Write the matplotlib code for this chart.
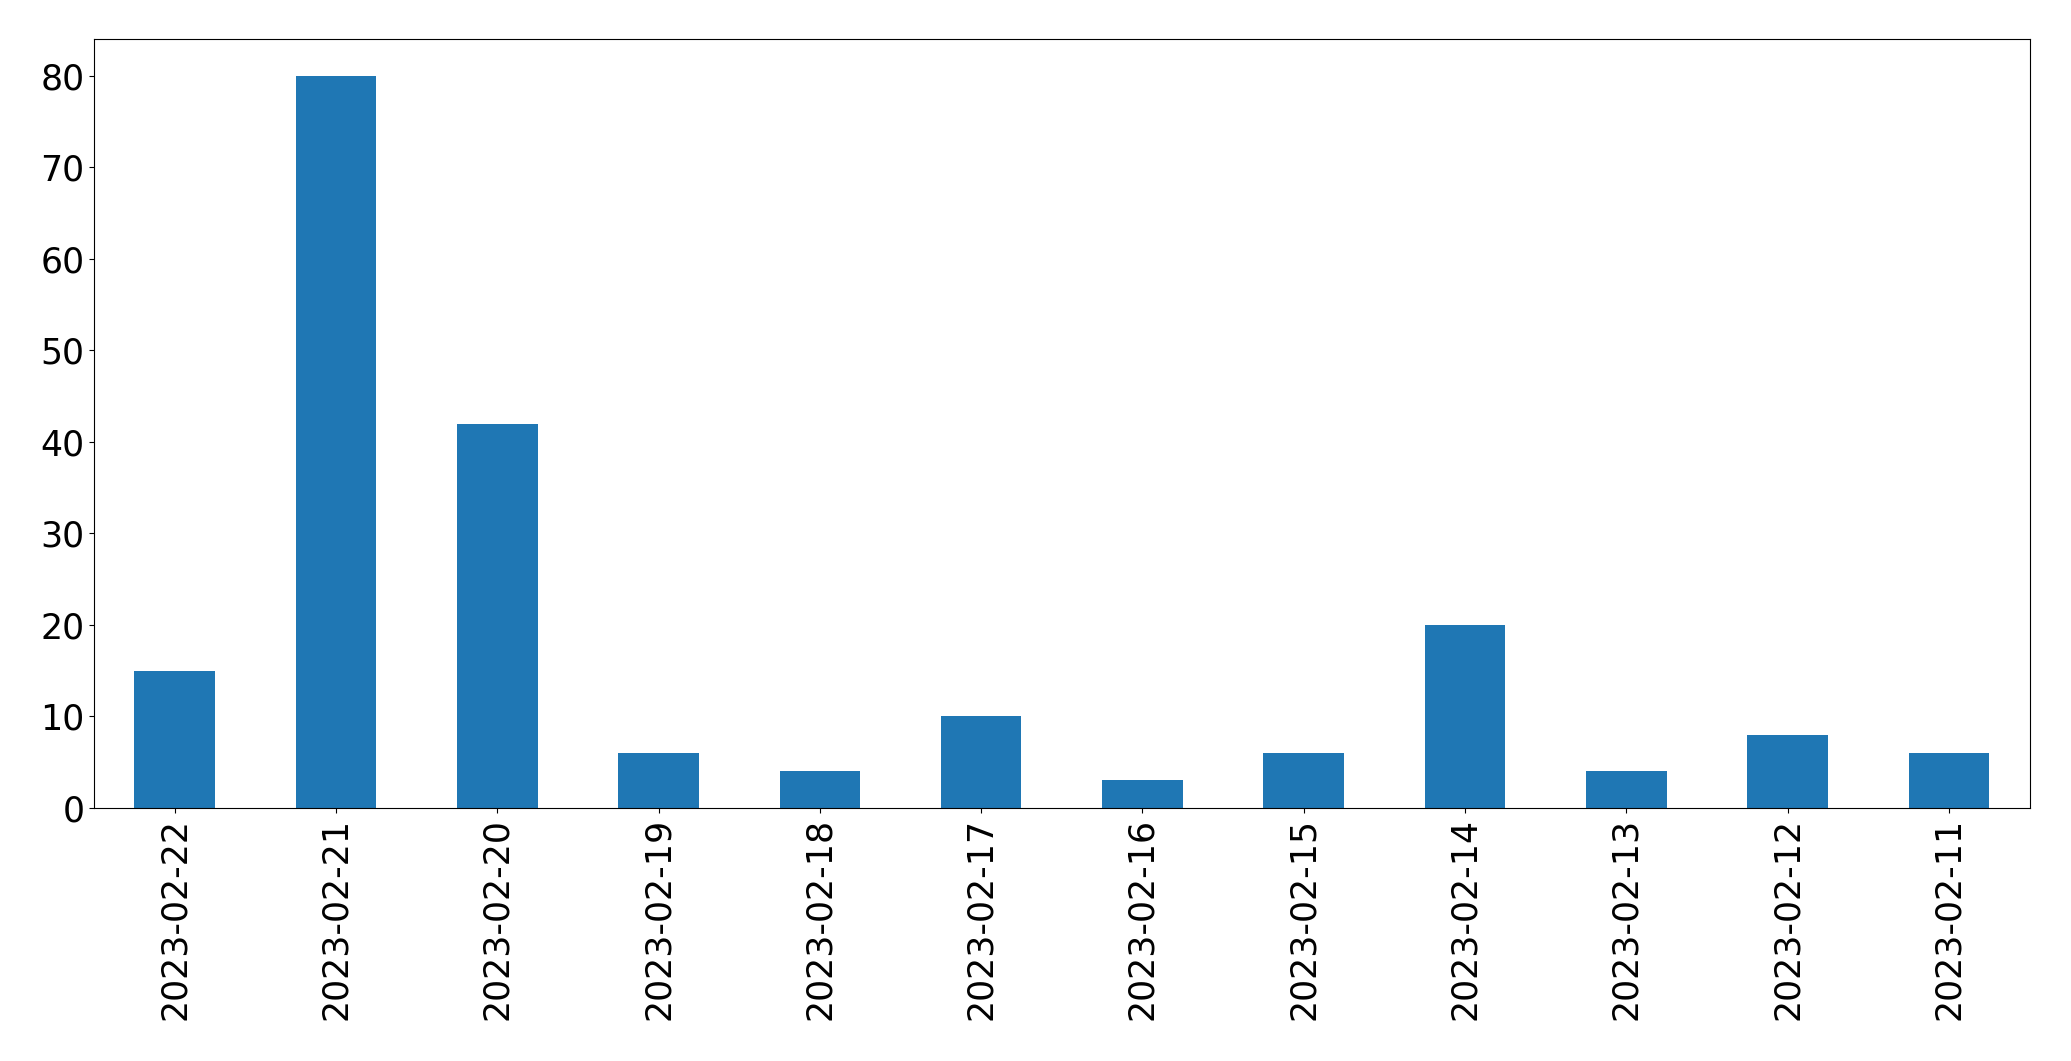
import matplotlib
matplotlib.use("Agg")
import matplotlib.pyplot as plt
import numpy as np

# daily counts, newest first (as in the original listing)
dates = ["2023-02-22", "2023-02-21", "2023-02-20", "2023-02-19",
         "2023-02-18", "2023-02-17", "2023-02-16", "2023-02-15",
         "2023-02-14", "2023-02-13", "2023-02-12", "2023-02-11"]
counts = [15, 80, 42, 6, 4, 10, 3, 6, 20, 4, 8, 6]


def main():
    fig = plt.figure(figsize=(20.71, 10.61), dpi=100)
    ax = fig.add_axes([0.0454, 0.2385, 0.9346, 0.7245])

    x = np.arange(len(dates))
    ax.bar(x, counts, width=0.5, color="#1f77b4")
    ax.set_xlim(-0.5, len(dates) - 0.5)
    ax.set_xticks(x)
    ax.set_xticklabels(dates, rotation=90)
    ax.tick_params(axis="both", labelsize=25)

    fig.savefig("out.png", dpi=100)


if __name__ == "__main__":
    main()
